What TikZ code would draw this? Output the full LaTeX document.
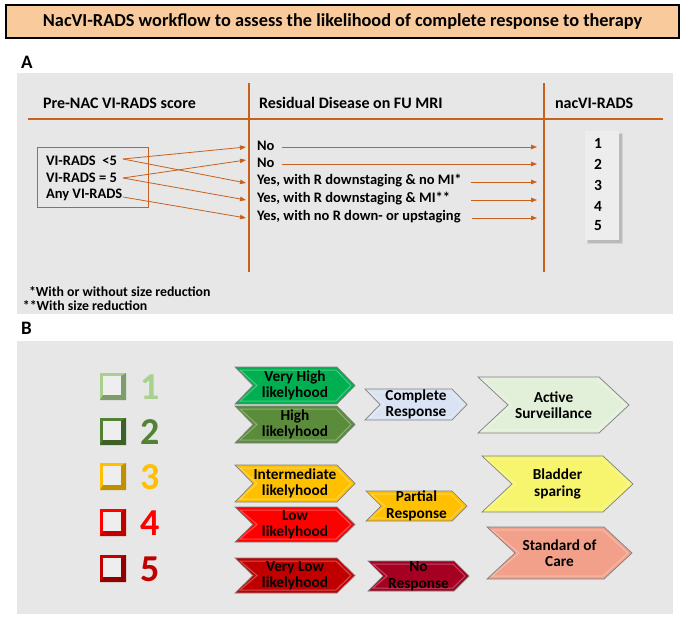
\documentclass[tikz,border=0pt]{standalone}
\usepackage{fontspec}
\setmainfont{Carlito}
\usetikzlibrary{arrows.meta}
\definecolor{peach}{HTML}{F9CB9C}
\definecolor{panel}{HTML}{E7E7E7}
\definecolor{rust}{HTML}{C8601E}
\definecolor{cLgreen}{HTML}{A9D18E}
\definecolor{cDgreen}{HTML}{548235}
\definecolor{cGold}{HTML}{FFC000}
\definecolor{cRed}{HTML}{FF0000}
\definecolor{cDred}{HTML}{C00000}
\definecolor{cVgreen}{HTML}{00B050}
\definecolor{cOlive}{HTML}{5B8C3C}
\definecolor{cBlue}{HTML}{DAE3F3}
\definecolor{cNoresp}{HTML}{A50021}
\definecolor{cPale}{HTML}{E2F0D9}
\definecolor{cYellow}{HTML}{F7F56E}
\definecolor{cSalmon}{HTML}{F2A08A}
\newcommand{\fsz}[2]{\fontsize{#1}{#2}\selectfont\bfseries}
\newcommand{\chev}[8]{%
 \path[fill=#7, draw=black!50, line width=0.7pt] (#2,#3) -- ({#4-#6},#3) -- (#4,{(#3+#5)/2}) -- ({#4-#6},#5) -- (#2,#5) -- ({#2+#6},{(#3+#5)/2}) -- cycle;
 \draw[white, opacity=0.3, line width=1pt] ({#2+5},{#3+3}) -- ({#4-#6-1},{#3+3}) -- ({#4-4},{(#3+#5)/2}) -- ({#4-#6-1},{#5-3}) -- ({#2+5},{#5-3}) -- ({#2+#6+4},{(#3+#5)/2}) -- cycle;
 \node[chevtext] (#1) at ({(#2+#4)/2},{(#3+#5)/2}) {#8};
}
\newcommand{\ckbox}[4]{%
 \fill[#3] (100,#2) rectangle (126,{#2+27});
 \fill[#3!75!black] (121,{#2+3}) -- (126,#2) -- (126,{#2+27}) -- (100,{#2+27}) -- (103,{#2+22}) -- (121,{#2+22}) -- cycle;
 \fill[panel!70!white] (103,{#2+3}) rectangle (121,{#2+22});
 \node[bignum, text=#3] (#1) at (150,{#2+14}) {#4};
}
\begin{document}
\begin{tikzpicture}[x=1pt,y=-1pt,
  every node/.style={inner sep=0pt, outer sep=0pt},
  head/.style={font=\fsz{16}{19}, anchor=west},
  item/.style={font=\fsz{14.5}{17}, anchor=west},
  foot/.style={font=\fsz{13.8}{16}, anchor=west},
  chevtext/.style={font=\fsz{15.3}{16.5}, align=center, text=black},
  bignum/.style={font=\fsz{38}{40}},
  panelletter/.style={font=\fsz{19}{21}, anchor=west},
  arr/.style={draw=rust, line width=0.8pt, -{Triangle[length=6pt,width=4.5pt]}},
  rline/.style={draw=rust, line width=1.4pt}]
\useasboundingbox (0,0) rectangle (685,620);
\fill[white] (0,0) rectangle (685,620);
% title
\node[draw=black, line width=2pt, fill=peach, minimum width=673pt, minimum height=33pt, font=\fsz{18.3}{20}] (title) at (342.5,21.5) {NacVI-RADS workflow to assess the likelihood of complete response to therapy};
% panel A
\node[panelletter] (lA) at (21,62) {A};
\fill[panel] (17,73) rectangle (673,314);
\draw[rline] (28,119) -- (663,119);
\draw[rline] (249,83) -- (249,272);
\draw[rline] (544,83) -- (544,272);
\node[head] (h1) at (43,103) {Pre-NAC VI-RADS score};
\node[head] (h2) at (259,103) {Residual Disease on FU MRI};
\node[head] (h3) at (555,103) {nacVI-RADS};
\draw[draw=rust, line width=1pt] (37,148) rectangle (148,208);
\node[item] (l1) at (46,161) {VI-RADS\ \ <5};
\node[item] (l2) at (46,178) {VI-RADS = 5};
\node[item] (l3) at (46,195) {Any VI-RADS};
\node[item] (m1) at (257,146) {No};
\node[item] (m2) at (257,163) {No};
\node[item] (m3) at (257,181) {Yes, with R downstaging \& no MI*};
\node[item] (m4) at (257,199) {Yes, with R downstaging \& MI**};
\node[item] (m5) at (257,217) {Yes, with no R down- or upstaging};
\coordinate (a1) at (123,159);
\coordinate (a2) at (123,178);
\coordinate (a3) at (123,197);
\draw[arr] (a1) -- ([xshift=-11pt,yshift=-1pt]m1.west);
\draw[arr] (a1) -- ([xshift=-11pt,yshift=-2pt]m3.west);
\draw[arr] (a2) -- ([xshift=-11pt,yshift=3pt]m2.west);
\draw[arr] (a2) -- ([xshift=-11pt,yshift=-1pt]m4.west);
\draw[arr] (a3) -- ([xshift=-11pt,yshift=-1pt]m5.west);
\coordinate (e1) at (537,147);
\coordinate (e2) at (537,164);
\coordinate (e3) at (537,182);
\coordinate (e4) at (537,200);
\coordinate (e5) at (537,218);
\draw[arr] (282,147) -- (e1);
\draw[arr] (282,164) -- (e2);
\draw[arr] (471,182) -- (e3);
\draw[arr] (471,200) -- (e4);
\draw[arr] (472,218) -- (e5);
\fill[black, opacity=0.12] (588,134) rectangle (622,243);
\fill[black, opacity=0.08] (587,133) rectangle (623,244);
\fill[black!7] (585,131) rectangle (619,240);
\node[font=\fsz{15.5}{18}] (n1) at (598,143) {1};
\node[font=\fsz{15.5}{18}] (n2) at (598,164) {2};
\node[font=\fsz{15.5}{18}] (n3) at (598,185) {3};
\node[font=\fsz{15.5}{18}] (n4) at (598,206) {4};
\node[font=\fsz{15.5}{18}] (n5) at (598,226) {5};
\node[foot] (f1) at (29,292) {*With or without size reduction};
\node[foot] (f2) at (23,306) {**With size reduction};
% panel B
\node[panelletter] (lB) at (21,328) {B};
\fill[panel] (17,341) rectangle (673,614);
\ckbox{k1}{373}{cLgreen}{1}
\ckbox{k2}{418}{cDgreen}{2}
\ckbox{k3}{463}{cGold}{3}
\ckbox{k4}{509}{cRed}{4}
\ckbox{k5}{555}{cDred}{5}
\chev{v1}{235}{367}{355}{404}{18}{cVgreen}{Very High\\likelyhood}
\chev{v2}{235}{406}{355}{443}{18}{cOlive}{High\\likelyhood}
\chev{v3}{235}{465}{355}{502}{18}{cGold}{Intermediate\\likelyhood}
\chev{v4}{235}{507}{355}{542}{18}{cRed}{Low\\likelyhood}
\chev{v5}{235}{558}{355}{593}{18}{cDred}{Very Low\\likelyhood}
\chev{r1}{365}{389}{467}{420}{15}{cBlue}{Complete\\Response}
\chev{r2}{366}{491}{467}{521}{15}{cGold}{Partial\\Response}
\chev{r3}{368}{561}{469}{591}{15}{cNoresp}{No\\Response}
\chev{t1}{478}{377}{629}{433}{30}{cPale}{Active\\Surveillance}
\chev{t2}{482}{456}{633}{512}{30}{cYellow}{Bladder\\sparing}
\chev{t3}{487}{527}{632}{579}{28}{cSalmon}{Standard of\\Care}
\end{tikzpicture}
\end{document}
